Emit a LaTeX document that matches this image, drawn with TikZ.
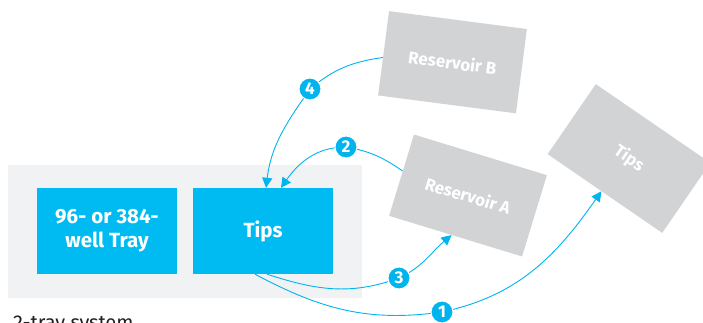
\documentclass[tikz,border=0pt]{standalone}
\usepackage{fontspec}
\setmainfont{Fira Sans}
\usetikzlibrary{arrows.meta,calc}
\definecolor{cy}{HTML}{00B4EE}
\definecolor{boxblue}{HTML}{00BBF2}
\definecolor{boxgray}{HTML}{D1D3D4}
\definecolor{panelgray}{HTML}{F1F2F4}
\definecolor{captxt}{HTML}{231F20}
\begin{document}
\begin{tikzpicture}[x=1pt,y=1pt,
  panelbox/.style={fill=panelgray, minimum width=354pt, minimum height=133pt, inner sep=0pt},
  bluebox/.style={fill=boxblue, minimum width=140pt, minimum height=86pt, inner sep=0pt, text=white, align=center, font=\bfseries\fontsize{20.5}{24}\selectfont},
  graybox/.style={fill=boxgray, minimum width=139pt, minimum height=85pt, inner sep=0pt, text=white, font=\bfseries\fontsize{17}{20}\selectfont},
  flow/.style={draw=cy, line width=0.9pt},
  tipend/.style={-{Triangle[length=10pt,width=10pt]}},
  badge/.style={circle, fill=cy, draw=white, line width=1pt, minimum size=22pt, inner sep=0pt, text=white, font=\bfseries\fontsize{17}{17}\selectfont},
  caption/.style={anchor=base west, inner sep=0pt, text=captxt, font=\fontsize{20}{24}\selectfont}]
\useasboundingbox (0,0) rectangle (703,322);
\node[panelbox] (panel) at (185,90.5) {};
\node[bluebox] (tray) at (107,91) {96- or 384-\\well Tray};
\node[bluebox] (tips) at (263,91) {Tips};
\node[graybox, rotate=-7.4] (resB) at (452.5,259.75) {Reservoir B};
\node[graybox, rotate=-17] (resA) at (468,126.5) {Reservoir A};
\node[graybox, rotate=-34.5] (tipsB) at (629,163.5) {Tips};
\node[caption] (cap) at (13,-7) {2-tray system};
% connector points
\coordinate (s4) at ($(resB.north west)!0.55!(resB.south west)$);
\coordinate (s2) at ($(resA.north west)!0.45!(resA.south west)$);
\coordinate (s1) at ($(tips.south)+(-8,0)$);
\coordinate (s3) at ($(tips.south)+(4,0)$);
\coordinate (e4) at ($(tips.north)+(3,0)$);
\coordinate (e2) at ($(tips.north)+(18,0)$);
\coordinate (e3) at ($(resA.south west)!0.47!(resA.south east)$);
\coordinate (e1) at ($(tipsB.south west)!0.47!(tipsB.south east)$);
\coordinate (p4) at (310,233);
\coordinate (p2) at (346,175);
\coordinate (p3) at (399,44);
\coordinate (p1) at (442,10);
% connectors
\draw[flow] (s4) to[out=188,in=40] (p4);
\draw[flow,tipend] (p4) to[out=235,in=83] (e4);
\draw[flow] (s2) to[out=145,in=-10] (p2);
\draw[flow,tipend] (p2) to[out=180,in=55] (e2);
\draw[flow] (s3) to[out=-18,in=200] (p3);
\draw[flow,tipend] (p3) to[out=25,in=220] (e3);
\draw[flow] (s1) to[out=-28,in=188] (p1);
\draw[flow,tipend] (p1) to[out=12,in=235] (e1);
% badges
\node[badge] (b4) at (p4) {4};
\node[badge] (b2) at (p2) {2};
\node[badge] (b3) at (p3) {3};
\node[badge] (b1) at (p1) {1};
\end{tikzpicture}
\end{document}
